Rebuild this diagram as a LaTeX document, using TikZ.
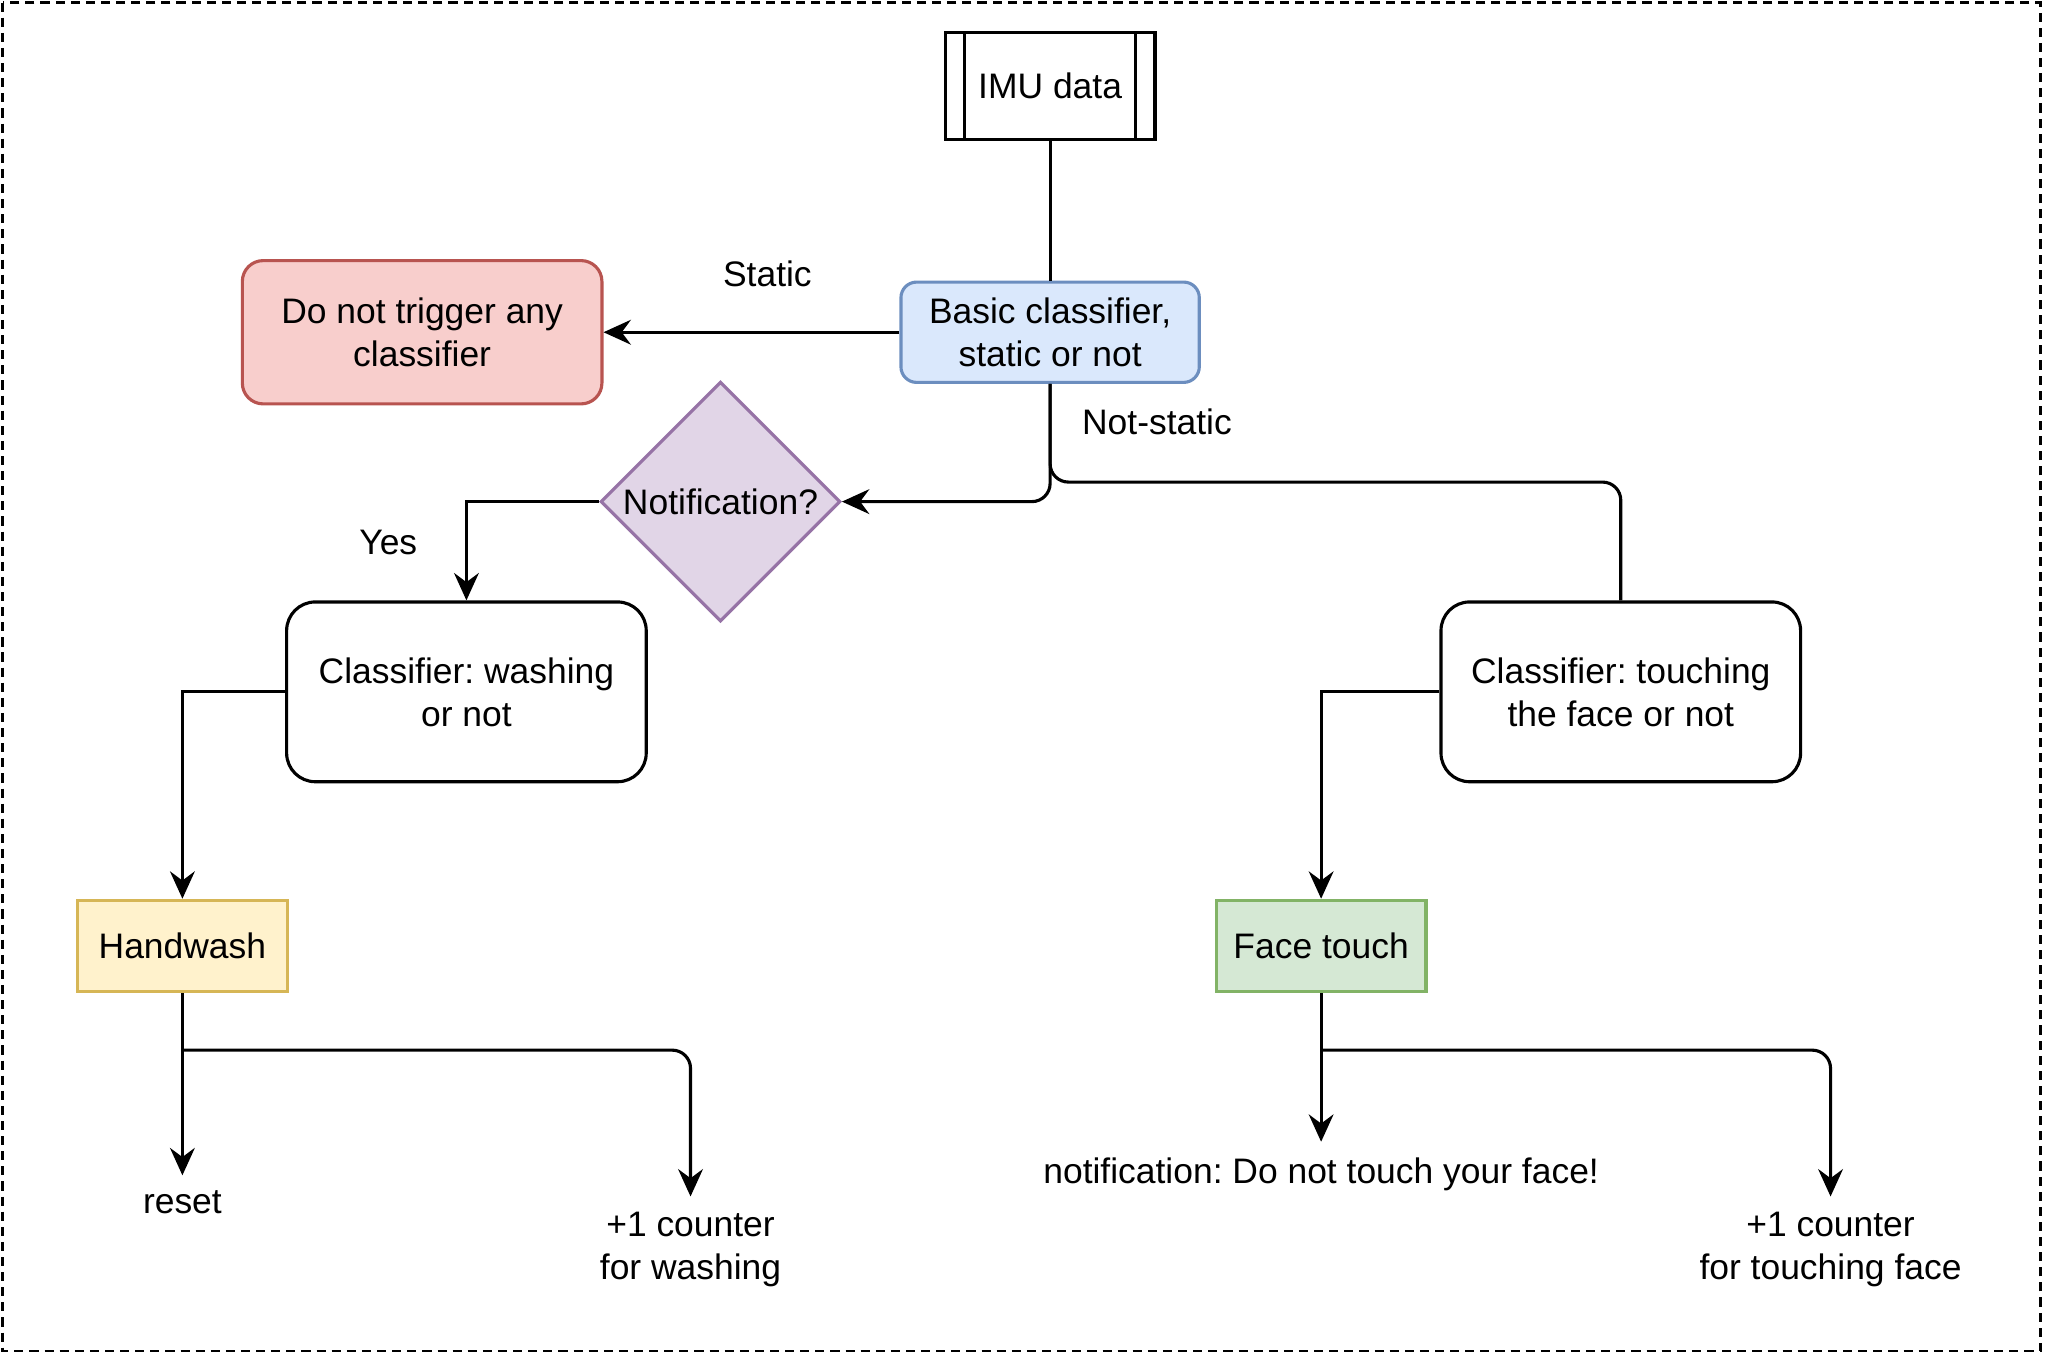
\documentclass[tikz,border=0pt]{standalone}
\usepackage{fontspec}
\setmainfont{Liberation Sans}
\usetikzlibrary{arrows.meta,shapes.geometric}
\definecolor{blueFill}{HTML}{DAE8FC}
\definecolor{blueLine}{HTML}{6C8EBF}
\definecolor{redFill}{HTML}{F8CECC}
\definecolor{redLine}{HTML}{B85450}
\definecolor{lilacFill}{HTML}{E1D5E7}
\definecolor{lilacLine}{HTML}{9673A6}
\definecolor{yellowFill}{HTML}{FFF2CC}
\definecolor{yellowLine}{HTML}{D6B656}
\definecolor{greenFill}{HTML}{D5E8D4}
\definecolor{greenLine}{HTML}{82B366}
\frenchspacing

\begin{document}
\begin{tikzpicture}[x=0.5pt,y=-0.5pt,
  every node/.style={font=\fontsize{13.6}{16.5}\selectfont},
  boxed/.style={draw=black,line width=1.2pt,align=center,inner sep=0pt},
  conn/.style={draw=black,line width=1.2pt},
  arrow/.style={conn,-{Stealth[length=10.5pt,width=9.5pt,inset=3.5pt]}},
  outtext/.style={align=center,inner sep=0pt,outer sep=6pt},
  lbl/.style={inner sep=0pt}]
\useasboundingbox (0,0) rectangle (1569.6,1040);
\draw[line width=1pt,dash pattern=on 3.5pt off 2.3pt] (2,2) rectangle (1566,1037);

% boxes
\node[boxed,minimum width=80.5pt,minimum height=41pt] (imu) at (806,66) {IMU data};
\draw[line width=1.2pt] ([xshift=8pt]imu.north west) -- ([xshift=8pt]imu.south west);
\draw[line width=1.2pt] ([xshift=-8pt]imu.north east) -- ([xshift=-8pt]imu.south east);
\node[boxed,draw=blueLine,fill=blueFill,rounded corners=6pt,minimum width=114.5pt,minimum height=38.5pt] (basic) at (806,255) {Basic classifier,\\static or not};
\node[boxed,draw=redLine,fill=redFill,rounded corners=8pt,minimum width=138pt,minimum height=55pt] (noaction) at (324,255) {Do not trigger any\\classifier};
\node[boxed,draw=lilacLine,fill=lilacFill,diamond,aspect=1,minimum size=92pt] (notif) at (553,385) {Notification?};
\node[boxed,rounded corners=11pt,minimum width=138pt,minimum height=69pt] (washcls) at (358,531) {Classifier: washing\\or not};
\node[boxed,rounded corners=11pt,minimum width=138pt,minimum height=69pt] (touchcls) at (1244,531) {Classifier: touching\\the face or not};
\node[boxed,draw=yellowLine,fill=yellowFill,minimum width=80.5pt,minimum height=35pt] (hw) at (140,726) {Handwash};
\node[boxed,draw=greenLine,fill=greenFill,minimum width=80.5pt,minimum height=35pt] (face) at (1014,726) {Face touch};

% outcomes
\node[outtext] (reset) at (140,923) {reset};
\node[outtext] (washcnt) at (530,959) {+1 counter\\for washing};
\node[outtext] (alert) at (1014,901) {notification: Do not touch your face!};
\node[outtext] (facecnt) at (1405,959) {+1 counter\\for touching face};

% labels
\node[lbl] (static) at (589,210) {Static};
\node[lbl] (notstatic) at (888,324) {Not-static};
\node[lbl] (yes) at (298,416) {Yes};

% connectors
\coordinate (nsturn) at (806,370);
\coordinate (hwsplit) at (140,806);
\coordinate (facesplit) at (1014,806);
\draw[conn] (imu) -- (basic);
\draw[arrow] (basic) -- (noaction);
\draw[arrow,rounded corners=7pt] (basic.south) |- (notif.east);
\draw[conn,rounded corners=7pt] (basic.south) -- (nsturn) -| (touchcls.north);
\draw[arrow] (notif.west) -| (washcls.north);
\draw[arrow] (washcls.west) -| (hw.north);
\draw[arrow] (touchcls.west) -| (face.north);
\draw[arrow] (hw) -- (reset);
\draw[arrow,rounded corners=7pt] (hwsplit) -| (washcnt);
\draw[arrow] (face) -- (alert);
\draw[arrow,rounded corners=7pt] (facesplit) -| (facecnt);
\end{tikzpicture}
\end{document}
